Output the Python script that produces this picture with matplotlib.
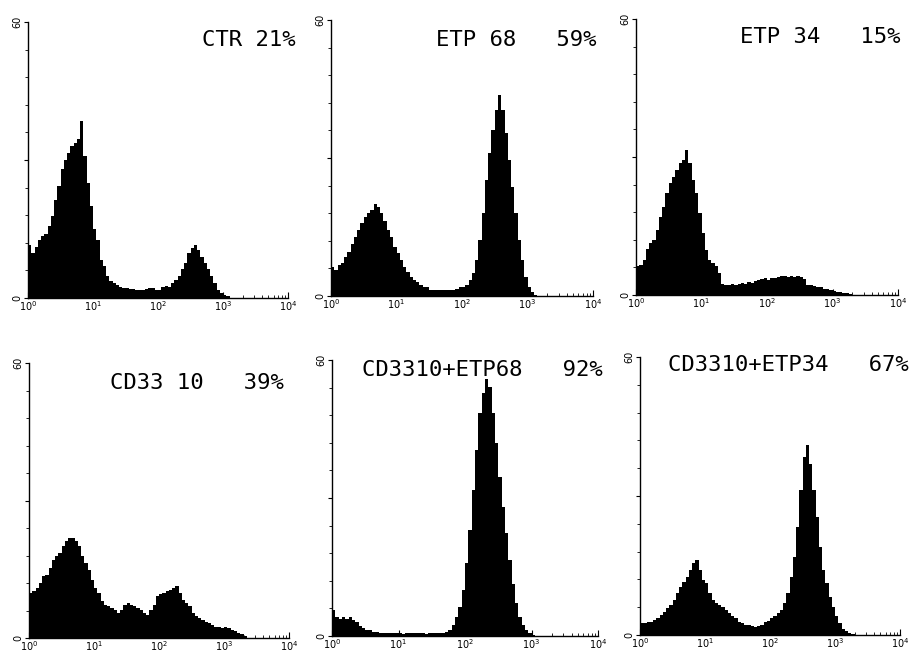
import numpy as np
import matplotlib
matplotlib.use("Agg")
import matplotlib.pyplot as plt
from matplotlib.ticker import LogLocator, FixedLocator

# counts per channel, channels are 0.05-decade bins starting at 10^0
ctr = [11.6, 9.8, 11.0, 12.7, 13.4, 14.0, 15.6, 17.8, 21.4, 24.3,
       28.0, 30.0, 31.6, 33.0, 33.7, 34.5, 38.4, 30.8, 25.0, 20.0,
       14.9, 12.7, 8.3, 6.9, 4.7, 3.6, 3.3, 2.9, 2.5, 2.2,
       2.2, 2.0, 2.0, 1.8, 1.8, 1.7, 2.0, 2.2, 2.2, 1.8,
       1.8, 2.4, 2.7, 2.5, 3.3, 4.0, 4.7, 6.2, 7.6, 9.8,
       10.9, 11.6, 10.5, 9.0, 7.6, 6.2, 4.7, 3.3, 1.8, 1.1,
       0.7, 0.4]
etp68 = [6.4, 5.7, 6.7, 7.1, 8.5, 9.6, 11.4, 12.9, 14.3, 15.8,
         17.2, 18.0, 18.7, 20.1, 19.4, 18.0, 16.2, 14.3, 12.9, 10.7,
         9.3, 7.8, 6.4, 5.3, 4.2, 3.5, 3.1, 2.4, 2.0, 1.9,
         1.4, 1.3, 1.3, 1.4, 1.4, 1.4, 1.3, 1.2, 1.6, 2.0,
         2.0, 2.4, 3.5, 4.9, 7.8, 12.2, 18.0, 25.2, 31.0, 36.0,
         40.4, 43.6, 40.4, 35.4, 29.6, 23.8, 18.0, 12.2, 7.8, 4.2,
         2.0, 0.9, 0.3]
etp34 = [6.2, 6.5, 7.6, 10.1, 11.2, 12.0, 14.1, 17.0, 19.2, 22.1,
         24.3, 25.7, 27.2, 28.6, 29.3, 31.5, 28.6, 25.0, 22.1, 17.8,
         13.4, 9.8, 7.6, 6.9, 6.2, 4.7, 2.5, 2.2, 2.2, 2.4,
         2.2, 2.5, 2.7, 2.5, 2.9, 2.7, 3.1, 3.3, 3.4, 3.6,
         3.3, 3.6, 3.8, 4.0, 4.1, 4.1, 4.0, 4.1, 4.0, 4.1,
         4.0, 3.4, 2.2, 2.2, 2.0, 1.8, 1.7, 1.4, 1.2, 1.1,
         0.9, 0.7, 0.6, 0.5, 0.4, 0.2]
cd33 = [9.8, 10.2, 10.9, 12.0, 13.5, 13.8, 15.3, 17.1, 17.8, 18.5,
        20.0, 21.1, 21.8, 21.8, 21.1, 20.0, 17.8, 16.4, 14.9, 12.7,
        10.9, 9.8, 8.0, 7.3, 6.9, 6.5, 6.2, 5.5, 6.2, 7.3,
        7.6, 7.3, 6.9, 6.5, 6.2, 5.5, 5.1, 6.2, 7.3, 9.1,
        9.5, 9.8, 10.2, 10.5, 10.9, 11.3, 9.8, 8.4, 7.6, 6.9,
        5.5, 4.7, 4.4, 4.0, 3.4, 3.3, 2.9, 2.5, 2.5, 2.2,
        2.5, 2.2, 1.8, 1.5, 1.1, 0.9, 0.5]
cd_etp68 = [5.7, 4.2, 3.8, 4.1, 3.8, 4.1, 3.5, 3.1, 2.2, 1.7,
            1.3, 1.2, 0.9, 0.9, 0.7, 0.7, 0.6, 0.7, 0.6, 0.6,
            0.6, 0.4, 0.6, 0.7, 0.6, 0.6, 0.7, 0.6, 0.4, 0.6,
            0.7, 0.7, 0.6, 0.7, 0.9, 1.3, 2.4, 4.2, 6.4, 10.0,
            15.8, 23.0, 31.7, 40.4, 48.4, 52.8, 55.9, 54.2, 48.4, 41.9,
            34.6, 28.1, 22.3, 16.5, 11.4, 7.1, 4.2, 2.4, 1.3, 0.6,
            0.2]
cd_etp34 = [2.5, 2.5, 2.7, 2.9, 3.2, 3.6, 4.3, 5.0, 5.8, 6.5,
            7.6, 9.0, 10.4, 11.5, 12.6, 14.0, 15.5, 16.2, 14.0, 11.9,
            11.2, 9.0, 7.6, 6.8, 6.5, 6.1, 5.4, 4.7, 4.0, 3.6,
            2.9, 2.5, 2.2, 2.2, 1.9, 1.8, 1.9, 2.2, 2.7, 3.1,
            3.6, 4.0, 4.7, 5.5, 6.8, 9.0, 12.6, 16.9, 23.4, 31.3,
            38.5, 40.9, 37.0, 31.3, 25.5, 19.1, 14.0, 11.2, 8.3, 6.1,
            4.0, 2.5, 1.4, 0.9, 0.5, 0.2]

titles = ["CTR 21%", "ETP 68   59%", "ETP 34   15%",
          "CD33 10   39%", "CD3310+ETP68   92%", "CD3310+ETP34   67%"]
series = [ctr, etp68, etp34, cd33, cd_etp68, cd_etp34]

# axes boxes in pixels: x0, x1, ytop, ybottom
boxes = [(28, 288, 22, 298), (331, 593, 20, 296), (636, 898, 19, 295),
         (29, 289, 363, 638), (332, 598, 360, 636), (640, 900, 357, 635)]
title_xy = [(296, 40), (596, 40), (900, 37), (284, 383), (603, 370), (909, 365)]

W, H = 911, 655
fig = plt.figure(figsize=(W / 100, H / 100), dpi=100)
fig.patch.set_facecolor("white")

for vals, title, (x0, x1, yt, yb), (tx, ty) in zip(series, titles, boxes, title_xy):
    ax = fig.add_axes([x0 / W, 1 - yb / H, (x1 - x0) / W, (yb - yt) / H])
    edges = 10 ** (np.arange(len(vals) + 1) * 0.05)
    ax.stairs(vals, edges, fill=True, color="black", linewidth=0)
    ax.set_xscale("log")
    ax.set_xlim(1, 1e4)
    ax.set_ylim(0, 60)
    for s in ("top", "right"):
        ax.spines[s].set_visible(False)
    for s in ("left", "bottom"):
        ax.spines[s].set_linewidth(1.0)
    ax.xaxis.set_major_locator(LogLocator(base=10, numticks=10))
    ax.xaxis.set_minor_locator(LogLocator(base=10, subs=np.arange(2, 10), numticks=10))
    ax.tick_params(axis="x", which="major", direction="in", length=4, labelsize=7, pad=1)
    ax.tick_params(axis="x", which="minor", direction="in", length=2)
    ax.yaxis.set_major_locator(FixedLocator([0, 30, 60]))
    ax.set_yticklabels(["0", "", "60"], rotation=90, va="center")
    ax.yaxis.set_minor_locator(FixedLocator(np.arange(0, 61, 6)))
    ax.tick_params(axis="y", which="major", direction="out", length=3, labelsize=7, pad=1)
    ax.tick_params(axis="y", which="minor", direction="out", length=2)
    fig.text(tx / W, 1 - ty / H, title, ha="right", va="center",
             family="DejaVu Sans Mono", fontsize=16)

fig.savefig("out.png", dpi=100, facecolor="white")
